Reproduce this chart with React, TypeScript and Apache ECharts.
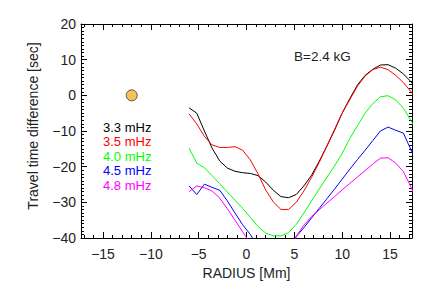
import React, { useEffect, useRef } from "react";
import * as echarts from "echarts";

// Radial positions (Mm) of the sampled points
const radius = [-6, -5.2, -4.4, -3.6, -2.8, -2.0, -1.2, -0.4, 0.4, 1.2, 2.0, 2.8, 3.6, 4.4, 5.2, 6.0, 6.8, 7.6, 8.4, 9.2, 10.0, 10.8, 11.6, 12.4, 13.2, 14.0, 14.8, 15.6, 16.4, 17.2, 18.0];

// Travel time differences (sec) per frequency
const t33 = [-3.5, -5.0, -10.0, -14.8, -18.4, -20.4, -21.3, -21.7, -21.9, -22.5, -24.3, -26.6, -28.4, -28.7, -27.8, -25.4, -22.4, -18.5, -14.3, -9.8, -5.0, -0.9, 2.9, 5.6, 7.3, 8.5, 8.6, 7.6, 6.0, 3.8, 1.0];
const t35 = [-5.2, -8.0, -11.5, -13.9, -14.6, -14.6, -14.4, -15.4, -18.1, -22.0, -26.5, -29.9, -32.0, -32.0, -30.0, -26.8, -23.0, -18.8, -14.2, -9.6, -5.0, -1.2, 2.6, 5.4, 7.2, 7.9, 7.2, 5.6, 3.6, 1.0, -2.0];
const t40 = [-14.8, -19.0, -20.3, -22.5, -24.8, -27.1, -29.4, -31.7, -34.2, -36.8, -38.6, -39.4, -39.4, -38.5, -36.2, -33.0, -29.6, -26.3, -23.0, -19.8, -16.3, -12.1, -8.5, -5.0, -2.3, -0.4, -0.1, -1.3, -3.6, -7.1, -11.0];
const t45 = [-25.4, -27.8, -24.9, -25.8, -26.6, -29.6, -33.0, -36.3, -39.0, -42.5, -46.0, -48.0, -47.0, -43.5, -39.6, -37.1, -34.4, -31.7, -29.0, -26.3, -23.5, -20.7, -18.0, -15.4, -12.7, -10.0, -8.9, -9.8, -10.6, -15.3, -20.0];
const t48 = [-27.0, -25.4, -25.9, -26.8, -28.8, -31.8, -35.0, -38.3, -41.5, -45.0, -48.0, -50.0, -49.0, -45.0, -39.5, -36.4, -34.0, -32.1, -30.2, -28.4, -26.5, -24.7, -22.9, -21.1, -19.3, -17.6, -17.5, -19.0, -21.4, -25.7, -31.0];

const seriesNames = ["3.3 mHz", "3.5 mHz", "4.0 mHz", "4.5 mHz", "4.8 mHz"];
const seriesValues = [t33, t35, t40, t45, t48];
const seriesColors = ["#000000", "#ff0000", "#00ff00", "#0000ff", "#ff00ff"];

// Reference point (sunspot centre marker)
const markerPoint = [[-12, 0]];

const annotation = "B=2.4 kG";
const xName = "RADIUS [Mm]";
const yName = "Travel time difference [sec]";

const FONT = "'Liberation Sans', Arial, Helvetica, sans-serif";

export default function App() {
  const ref = useRef<HTMLDivElement>(null);

  useEffect(() => {
    const chart = echarts.init(ref.current!, null, { renderer: "svg" });
    const fmt = (v: number) => (v < 0 ? "\u2212" + Math.abs(v) : String(v));
    const axisLine = { show: true, onZero: false, lineStyle: { color: "#000", width: 1 } };
    const tick = { show: true, inside: true, length: 6, lineStyle: { color: "#000", width: 1 } };

    const xCommon: any = {
      type: "value",
      min: -17.3,
      max: 17.3,
      splitNumber: 7,
      axisLine,
      axisTick: tick,
      minorTick: { show: true, splitNumber: 5, length: 3, lineStyle: { color: "#000", width: 1 } },
      splitLine: { show: false },
      minorSplitLine: { show: false },
    };
    const yCommon: any = {
      type: "value",
      min: -40,
      max: 20,
      interval: 10,
      axisLine,
      axisTick: tick,
      minorTick: { show: true, splitNumber: 10, length: 3, lineStyle: { color: "#000", width: 1 } },
      splitLine: { show: false },
      minorSplitLine: { show: false },
    };

    chart.setOption({
      animation: false,
      backgroundColor: "#ffffff",
      textStyle: { fontFamily: FONT },
      grid: { left: 81, right: 24, top: 24, bottom: 52, containLabel: false },
      xAxis: [
        {
          ...xCommon,
          position: "bottom",
          name: xName,
          nameLocation: "middle",
          nameGap: 26,
          nameTextStyle: { fontSize: 14, color: "#222", fontFamily: FONT },
          axisLabel: {
            show: true,
            margin: 9,
            fontSize: 14,
            color: "#222",
            fontFamily: FONT,
            showMinLabel: false,
            showMaxLabel: false,
            formatter: fmt,
          },
        },
        { ...xCommon, position: "top", axisLabel: { show: false } },
      ],
      yAxis: [
        {
          ...yCommon,
          position: "left",
          name: yName,
          nameLocation: "middle",
          nameGap: 41,
          nameTextStyle: { fontSize: 14, color: "#222", fontFamily: FONT, padding: [0, 0, 0, 10] },
          axisLabel: { show: true, margin: 5, fontSize: 14, color: "#222", fontFamily: FONT, formatter: fmt },
        },
        { ...yCommon, position: "right", axisLabel: { show: false } },
      ],
      legend: {
        orient: "vertical",
        left: 98,
        top: 120.5,
        padding: 0,
        itemWidth: 0,
        itemHeight: 12,
        itemGap: 1.5,
        icon: "none",
        selectedMode: false,
        textStyle: { fontSize: 13, fontFamily: FONT },
        data: seriesNames.map((n, i) => ({ name: n, textStyle: { color: seriesColors[i] } })),
      },
      graphic: [
        {
          type: "text",
          left: 294,
          top: 49,
          style: { text: annotation, fontSize: 13.5, fill: "#222", fontFamily: FONT },
        },
      ],
      series: [
        ...seriesNames.map((n, i) => ({
          name: n,
          type: "line",
          xAxisIndex: 0,
          yAxisIndex: 0,
          data: radius.map((r, k) => [r, seriesValues[i][k]]),
          showSymbol: false,
          symbol: "none",
          clip: true,
          lineStyle: { color: seriesColors[i], width: 1 },
          itemStyle: { color: seriesColors[i] },
        })),
        {
          name: "marker",
          type: "scatter",
          data: markerPoint,
          symbolSize: 11,
          itemStyle: { color: "#f4b431", borderColor: "#333", borderWidth: 1 },
          z: 5,
        },
      ],
    });

    return () => chart.dispose();
  }, []);

  return (
    <div
      ref={ref}
      style={{ position: "fixed", left: 0, top: 0, width: 436, height: 290, background: "#fff" }}
    />
  );
}
